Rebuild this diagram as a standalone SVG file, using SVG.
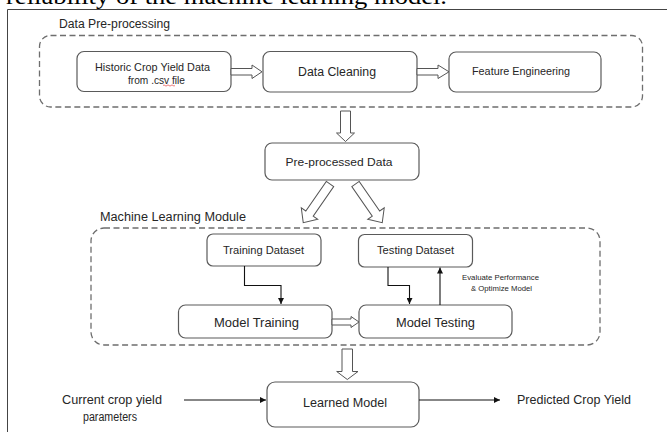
<svg xmlns="http://www.w3.org/2000/svg" width="667" height="432" viewBox="0 0 667 432">
<defs>
<marker id="ah" viewBox="0 0 10 10" refX="10" refY="5" markerWidth="6" markerHeight="6" markerUnits="userSpaceOnUse" orient="auto">
<path d="M0,0 L10,5 L0,10 Z" fill="#111"/>
</marker>
<style>
.box{fill:#fff;stroke:#5a5a5a;stroke-width:1.2}
.dash{fill:none;stroke:#6e6e6e;stroke-width:1.3;stroke-dasharray:6 3.5}
.hol{fill:#fff;stroke:#555;stroke-width:1}
.ln{fill:none;stroke:#111;stroke-width:1.1}
.t{font-family:"Liberation Sans",Arial,sans-serif;fill:#262626}
.c{text-anchor:middle}
</style>
</defs>
<rect width="667" height="432" fill="#fff"/>
<text x="6" y="4" font-family="'Liberation Serif','Times New Roman',serif" font-size="24" fill="#000" textLength="441" lengthAdjust="spacingAndGlyphs">reliability of the machine learning model.</text>
<path d="M7.5,432 V9.5 H667" fill="none" stroke="#444" stroke-width="1"/>

<g id="group-preprocessing">
<rect class="dash" x="39.5" y="35.5" width="603" height="71.5" rx="11"/>
<text class="t" x="59" y="28" font-size="12" textLength="111" lengthAdjust="spacingAndGlyphs">Data Pre-processing</text>
</g>
<g id="group-ml">
<rect class="dash" x="91" y="228" width="509" height="117" rx="13"/>
<text class="t" x="100" y="221" font-size="12.5" textLength="146" lengthAdjust="spacingAndGlyphs">Machine Learning Module</text>
</g>

<g id="node-historic">
<rect class="box" x="77" y="51.5" width="154" height="40" rx="7"/>
<text class="t c" x="152.5" y="70.5" font-size="10.5" textLength="115" lengthAdjust="spacingAndGlyphs">Historic Crop Yield Data</text>
<text class="t c" x="156.5" y="83.5" font-size="10.5" textLength="57" lengthAdjust="spacingAndGlyphs">from .csv file</text>
<path d="M163,85.5 q1,-1.2 2,0 t2,0 t2,0 t2,0 t2,0 t2,0" fill="none" stroke="#d22" stroke-width="0.6"/>
</g>
<g id="node-cleaning">
<rect class="box" x="263" y="51.5" width="154" height="40.5" rx="7"/>
<text class="t c" x="337" y="76" font-size="12.5" textLength="78" lengthAdjust="spacingAndGlyphs">Data Cleaning</text>
</g>
<g id="node-feature">
<rect class="box" x="449" y="52" width="152" height="40" rx="7"/>
<text class="t c" x="521" y="74.5" font-size="10.5" textLength="98" lengthAdjust="spacingAndGlyphs">Feature Engineering</text>
</g>
<g id="node-preprocessed">
<rect class="box" x="265" y="143" width="154" height="37" rx="7"/>
<text class="t c" x="339" y="166" font-size="11.5" textLength="107" lengthAdjust="spacingAndGlyphs">Pre-processed Data</text>
</g>
<g id="node-training-dataset">
<rect class="box" x="207" y="234" width="114" height="32" rx="6"/>
<text class="t c" x="263.5" y="254" font-size="11" textLength="81" lengthAdjust="spacingAndGlyphs">Training Dataset</text>
</g>
<g id="node-testing-dataset">
<rect class="box" x="358.5" y="234.5" width="114" height="32.5" rx="6"/>
<text class="t c" x="415.5" y="254" font-size="11" textLength="77" lengthAdjust="spacingAndGlyphs">Testing Dataset</text>
</g>
<g id="node-model-training">
<rect class="box" x="178.5" y="305" width="153.5" height="33" rx="7"/>
<text class="t c" x="256.5" y="326.5" font-size="13" textLength="85" lengthAdjust="spacingAndGlyphs">Model Training</text>
</g>
<g id="node-model-testing">
<rect class="box" x="359" y="305" width="153" height="33" rx="7"/>
<text class="t c" x="435.5" y="326.5" font-size="13" textLength="79" lengthAdjust="spacingAndGlyphs">Model Testing</text>
</g>
<g id="node-learned-model">
<rect class="box" x="267" y="382" width="152" height="45" rx="8"/>
<text class="t c" x="345" y="407" font-size="12" textLength="84" lengthAdjust="spacingAndGlyphs">Learned Model</text>
</g>
<g id="node-input">
<text class="t c" x="112" y="404" font-size="12" textLength="100" lengthAdjust="spacingAndGlyphs">Current crop yield</text>
<text class="t c" x="110" y="421" font-size="12" textLength="54" lengthAdjust="spacingAndGlyphs">parameters</text>
</g>
<g id="node-output">
<text class="t" x="517" y="404" font-size="12" textLength="114" lengthAdjust="spacingAndGlyphs">Predicted Crop Yield</text>
</g>

<g id="connectors">
<polygon class="hol" points="231,68.5 252,68.5 252,65 262,71.8 252,78.5 252,75 231,75"/>
<polygon class="hol" points="417,68.5 438,68.5 438,65 449,71.8 438,78.5 438,75 417,75"/>
<polygon class="hol" points="340.5,111 350.5,111 350.5,133 354.5,133 345.5,141.5 336.5,133 340.5,133"/>
<g transform="translate(330,184) rotate(34.7)">
<polygon class="hol" points="-4.5,0 4.5,0 4.5,36 10,36 0,47 -10,36 -4.5,36"/>
</g>
<g transform="translate(355.5,184) rotate(-34.7)">
<polygon class="hol" points="-4.5,0 4.5,0 4.5,36 10,36 0,47 -10,36 -4.5,36"/>
</g>
<polygon class="hol" points="332,319 351,319 351,316.5 359,322 351,327.5 351,325 332,325"/>
<polygon class="hol" points="342,349 352.5,349 352.5,371.5 358,371.5 347.3,379.5 336.7,371.5 342,371.5"/>
<path class="ln" d="M244.5,266 V285.5 H281 V304" marker-end="url(#ah)"/>
<path class="ln" d="M388,267 V285.5 H409.5 V304" marker-end="url(#ah)"/>
<path class="ln" d="M440,305 V267.5" marker-end="url(#ah)"/>
<text class="t c" x="500.5" y="280" font-size="7" textLength="77" lengthAdjust="spacingAndGlyphs">Evaluate Performance</text>
<text class="t c" x="501.5" y="291" font-size="7" textLength="61" lengthAdjust="spacingAndGlyphs">&amp; Optimize Model</text>
<path class="ln" d="M184,400 H266" marker-end="url(#ah)"/>
<path class="ln" d="M419,400 H500" marker-end="url(#ah)"/>
</g>
</svg>
